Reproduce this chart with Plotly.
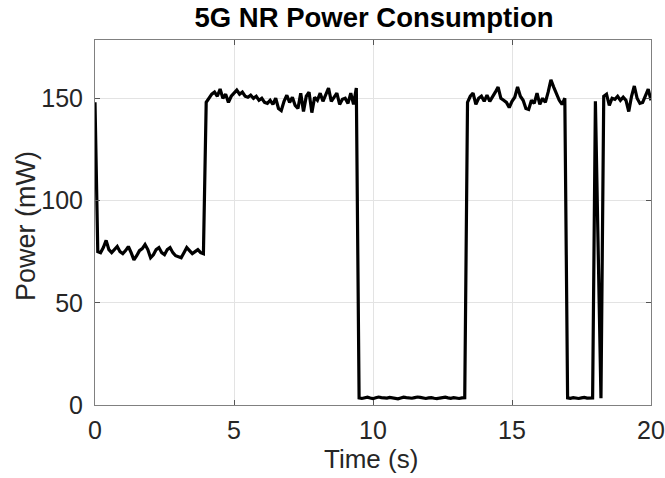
import numpy as np
import plotly.graph_objects as go

time_s = np.round(np.arange(201) * 0.1, 1)

seg_mid_power = [148, 75, 74.5, 77, 80.5, 76, 74.5, 76, 77.5, 75,
                 74, 75.5, 77.5, 74.5, 71, 73, 75.5, 76.5, 78.5, 76,
                 72, 73.5, 76, 77, 74.5, 73.5, 76, 77, 74.5, 73,
                 72.5, 72, 74.5, 77, 75.5, 74, 75, 76, 74.5, 74]          # 0.0 - 3.9 s

seg_high_1 = [148, 150, 152, 153, 151, 154.5, 150, 152, 148, 151,
              152.5, 154, 152, 153, 151, 150.5, 151.5, 150, 151, 149,
              150, 148, 147.5, 149, 147, 150, 145, 144, 148.5, 151.5,
              148, 150.5, 146.5, 145, 152.5, 143.5, 151, 153, 143, 150.5,
              149, 152.5, 148.5, 152, 155, 148.5, 150.5, 152.5, 147, 149.5,
              150, 147.5, 152.5, 147, 155]                                  # 4.0 - 9.4 s

seg_sleep_1 = [3.5, 3.2, 3.6, 3.8, 3.4, 3.1, 3.5, 3.9, 3.6, 3.3,
               3.4, 3.7, 3.5, 3.2, 3.0, 3.4, 3.8, 3.6, 3.5, 3.3,
               3.6, 3.9, 3.7, 3.4, 3.2, 3.5, 3.6, 3.3, 3.1, 3.4,
               3.7, 3.8, 3.5, 3.3, 3.6, 3.4, 3.2, 3.5, 3.6]                 # 9.5 - 13.3 s

seg_high_2 = [148, 151, 152.5, 147, 150, 151, 148.5, 151.5, 148.5, 150.5,
              153, 155.5, 150, 149, 148, 145.5, 148.5, 150.5, 155.5, 151,
              149, 145, 144.5, 149, 147.5, 152.5, 147, 150, 148, 153,
              159, 155.5, 152, 149, 147, 150]                               # 13.4 - 16.9 s

seg_sleep_2 = [3.5, 3.3, 3.6, 3.4, 3.2, 3.5, 3.7, 3.4, 3.3, 3.5]           # 17.0 - 17.9 s

seg_spike = [148.5, 76, 3.3]                                                # 18.0 - 18.2 s

seg_high_3 = [151, 152, 146.5, 150, 149.5, 151, 149, 150.5, 149, 143.5,
              151, 156, 150, 147.5, 148, 151, 154.5, 149]                  # 18.3 - 20.0 s

power_mw = (seg_mid_power + seg_high_1 + seg_sleep_1 + seg_high_2
            + seg_sleep_2 + seg_spike + seg_high_3)

x_ticks = [0, 5, 10, 15, 20]
y_ticks = [0, 50, 100, 150]

FONT = "Liberation Sans, Arial, sans-serif"
W, H = 665, 478
L, R, T, B = 95, 14, 40, 73

fig = go.Figure()
fig.add_trace(go.Scatter(
    x=time_s, y=power_mw, mode="lines",
    line=dict(color="black", width=3.2),
    hoverinfo="skip", showlegend=False,
))

axis_common = dict(
    showline=True, linecolor="#808080", linewidth=1, mirror="ticks",
    ticks="inside", ticklen=5, tickcolor="#555555", tickwidth=1,
    showgrid=True, gridcolor="#e3e3e3", gridwidth=1,
    zeroline=False, automargin=False,
    tickfont=dict(family=FONT, size=25, color="#262626"),
)

fig.update_layout(
    width=W, height=H,
    margin=dict(l=L, r=R, t=T, b=B),
    paper_bgcolor="white", plot_bgcolor="white",
    title=dict(
        text="<b>5G NR Power Consumption</b>",
        font=dict(family=FONT, size=27.5, color="black"),
        x=374 / W, xanchor="center",
        y=1 - 17 / H, yanchor="middle", yref="container",
    ),
    xaxis=dict(
        range=[0, 20], tickvals=x_ticks, ticktext=[str(v) for v in x_ticks],
        ticklabelstandoff=3,
        **axis_common,
    ),
    yaxis=dict(
        range=[0, 178.5], tickvals=y_ticks, ticktext=[str(v) for v in y_ticks],
        ticklabelstandoff=6,
        **axis_common,
    ),
    annotations=[
        dict(text="Time (s)", xref="paper", yref="paper",
             x=(371 - L) / (W - L - R), y=-(459 - (H - B)) / (H - T - B),
             xanchor="center", yanchor="middle", showarrow=False,
             font=dict(family=FONT, size=26, color="#262626")),
        dict(text="Power (mW)", xref="paper", yref="paper", textangle=-90,
             x=-(L - 26) / (W - L - R), y=((H - B) - 226) / (H - T - B),
             xanchor="center", yanchor="middle", showarrow=False,
             font=dict(family=FONT, size=27, color="#262626")),
    ],
)

fig.write_html("out.html", config={"displayModeBar": False},
               post_script="document.body.style.margin='0px';")
